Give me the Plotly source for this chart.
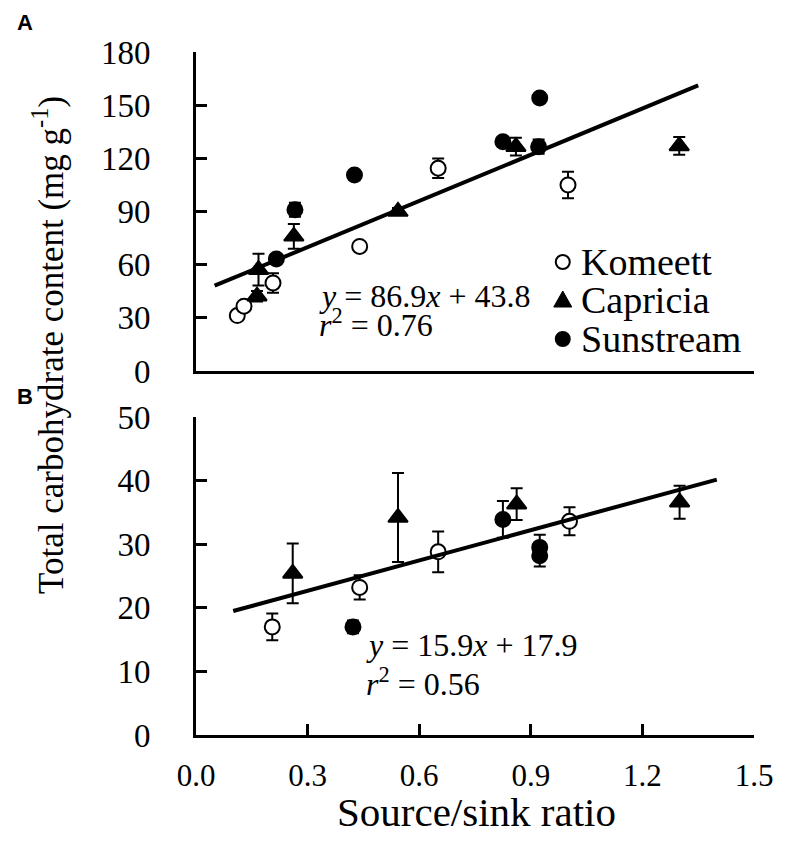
import plotly.graph_objects as go

# ---------------- data ----------------
# Panel A
a_kom_x = [0.111, 0.129, 0.207, 0.440, 0.651, 1.000]
a_kom_y = [31.3, 36.6, 49.7, 70.3, 114.4, 105.0]
a_kom_e = [2.0, 2.0, 5.5, 2.0, 5.5, 7.5]

a_cap_x = [0.164, 0.168, 0.263, 0.543, 0.860, 1.299]
a_cap_y = [42.2, 57.2, 76.0, 90.0, 126.6, 127.0]
a_cap_e = [3.0, 9.0, 7.0, 2.0, 5.0, 5.0]

a_sun_x = [0.216, 0.266, 0.426, 0.825, 0.921, 0.924]
a_sun_y = [63.2, 91.0, 110.6, 129.4, 126.6, 154.1]
a_sun_e = [2.0, 4.0, 2.0, 2.0, 4.0, 2.0]

# Panel B
b_kom_x = [0.205, 0.440, 0.651, 1.004]
b_kom_y = [17.0, 23.2, 28.8, 33.6]
b_kom_e = [2.1, 1.9, 3.2, 2.2]

b_cap_x = [0.260, 0.543, 0.862, 1.300]
b_cap_y = [25.4, 34.2, 36.3, 36.6]
b_cap_e = [4.7, 7.0, 2.5, 2.6]

b_sun_x = [0.422, 0.825, 0.924, 0.924]
b_sun_y = [17.0, 33.9, 29.5, 28.2]
b_sun_e = [1.0, 2.9, 2.0, 1.7]

# regression fits (slope, intercept) and x-extent
fit_a = (86.9, 43.8)
fit_a_x = [0.05, 1.35]
fit_b = (15.9, 17.9)
fit_b_x = [0.10, 1.40]

cultivars = ["Komeett", "Capricia", "Sunstream"]
x_ticks = [0.0, 0.3, 0.6, 0.9, 1.2, 1.5]
x_tick_text = ["0.0", "0.3", "0.6", "0.9", "1.2", "1.5"]
ya_ticks = [0, 30, 60, 90, 120, 150, 180]
yb_ticks = [0, 10, 20, 30, 40, 50]

# ---------------- figure ----------------
SERIF = "Liberation Serif, Times New Roman, serif"
SANS = "Liberation Sans, Arial, sans-serif"

# page geometry (page has an 8px body margin)
PL, PR, PT, PB = 196, 765, 52, 735


def px(xp):
    return (xp - PL) / (PR - PL)


def py(yp):
    return (PB - yp) / (PB - PT)


fig = go.Figure()


def add_series(x, y, e, symbol, fill, xa, ya):
    fig.add_trace(go.Scatter(
        x=x, y=y, mode="markers", showlegend=False,
        xaxis=xa, yaxis=ya,
        marker=dict(symbol=symbol, size=15 if symbol == "circle" else 17,
                    color=fill, line=dict(color="black", width=2)),
        error_y=dict(type="data", array=e, visible=True, color="black",
                     thickness=2, width=6),
    ))


add_series(a_kom_x, a_kom_y, a_kom_e, "circle", "white", "x", "y")
add_series(a_cap_x, a_cap_y, a_cap_e, "triangle-up", "black", "x", "y")
add_series(a_sun_x, a_sun_y, a_sun_e, "circle", "black", "x", "y")
add_series(b_kom_x, b_kom_y, b_kom_e, "circle", "white", "x2", "y2")
add_series(b_cap_x, b_cap_y, b_cap_e, "triangle-up", "black", "x2", "y2")
add_series(b_sun_x, b_sun_y, b_sun_e, "circle", "black", "x2", "y2")

fig.add_trace(go.Scatter(x=fit_a_x, y=[fit_a[0] * v + fit_a[1] for v in fit_a_x],
                         mode="lines", line=dict(color="black", width=4),
                         showlegend=False, xaxis="x", yaxis="y"))
fig.add_trace(go.Scatter(x=fit_b_x, y=[fit_b[0] * v + fit_b[1] for v in fit_b_x],
                         mode="lines", line=dict(color="black", width=4),
                         showlegend=False, xaxis="x2", yaxis="y2"))

axis_common = dict(showline=True, linecolor="black", linewidth=3, ticks="inside",
                   ticklen=11, tickwidth=3, tickcolor="black", showgrid=False,
                   zeroline=False)

W, H = 777, 835
fig.update_layout(
    width=W, height=H,
    margin=dict(l=PL - 8, r=W - (PR - 8), t=PT - 8, b=H - (PB - 8)),
    paper_bgcolor="white", plot_bgcolor="white",
    showlegend=False,
    xaxis=dict(domain=[0, 1], range=[0, 1.5], anchor="y", showline=True,
               linecolor="black", linewidth=3, showticklabels=False, ticks="",
               showgrid=False, zeroline=False),
    yaxis=dict(domain=[py(371), 1], range=[0, 180], anchor="x", tickvals=ya_ticks,
               ticklabelstandoff=36, tickfont=dict(family=SERIF, size=33, color="black"),
               **axis_common),
    xaxis2=dict(domain=[0, 1], range=[0, 1.5], anchor="y2", tickvals=x_ticks,
                ticktext=x_tick_text, ticklabelstandoff=11,
                tickfont=dict(family=SERIF, size=31, color="black"), **axis_common),
    yaxis2=dict(domain=[0, py(417)], range=[0, 50], anchor="x2", tickvals=yb_ticks,
                ticklabelstandoff=36, tickfont=dict(family=SERIF, size=33, color="black"),
                **axis_common),
)

# equations
ann_font = dict(family=SERIF, size=32, color="black")
fig.add_annotation(x=0.325, y=42.5, xref="x", yref="y", xanchor="left", yanchor="middle",
                   text="<i>y</i> = 86.9<i>x</i> + 43.8", showarrow=False, font=ann_font)
fig.add_annotation(x=0.325, y=27.0, xref="x", yref="y", xanchor="left", yanchor="middle",
                   text="<i>r</i><sup>2</sup> = 0.76", showarrow=False, font=ann_font)
fig.add_annotation(x=0.452, y=14.2, xref="x2", yref="y2", xanchor="left", yanchor="middle",
                   text="<i>y</i> = 15.9<i>x</i> + 17.9", showarrow=False, font=ann_font)
fig.add_annotation(x=0.452, y=8.4, xref="x2", yref="y2", xanchor="left", yanchor="middle",
                   text="<i>r</i><sup>2</sup> = 0.56", showarrow=False, font=ann_font)

# manual legend (symbols as pixel-sized shapes, labels as text)
leg_rows = [262, 300, 339]
leg_x = 570
fig.add_shape(type="circle", xref="paper", yref="paper", xsizemode="pixel", ysizemode="pixel",
              xanchor=px(leg_x), yanchor=py(leg_rows[0]), x0=-7, x1=7, y0=-7, y1=7,
              fillcolor="white", line=dict(color="black", width=2))
fig.add_shape(type="path", xref="paper", yref="paper", xsizemode="pixel", ysizemode="pixel",
              xanchor=px(leg_x), yanchor=py(leg_rows[1]),
              path="M -9,-7 L 9,-7 L 0,9 Z", fillcolor="black", line=dict(color="black", width=1))
fig.add_shape(type="circle", xref="paper", yref="paper", xsizemode="pixel", ysizemode="pixel",
              xanchor=px(leg_x), yanchor=py(leg_rows[2]), x0=-7, x1=7, y0=-7, y1=7,
              fillcolor="black", line=dict(color="black", width=2))
for name, row in zip(cultivars, leg_rows):
    fig.add_annotation(x=px(587), y=py(row), xref="paper", yref="paper", text=name,
                       showarrow=False, xanchor="left", yanchor="middle",
                       font=dict(family=SERIF, size=38, color="black"))

# axis titles
fig.add_annotation(x=px(45), y=py(345), xref="paper", yref="paper",
                   text="Total carbohydrate content (mg g<sup>-1</sup>)", textangle=-90,
                   showarrow=False, xanchor="center", yanchor="middle",
                   font=dict(family=SERIF, size=35, color="black"))
fig.add_annotation(x=px(482), y=py(812), xref="paper", yref="paper",
                   text="Source/sink ratio", showarrow=False, xanchor="center",
                   yanchor="middle", font=dict(family=SERIF, size=41, color="black"))

# panel letters
fig.add_annotation(x=px(22), y=py(22), xref="paper", yref="paper",
                   text="<b>A</b>", showarrow=False, xanchor="center", yanchor="middle",
                   font=dict(family=SANS, size=22, color="black"))
fig.add_annotation(x=px(22), y=py(396), xref="paper", yref="paper",
                   text="<b>B</b>", showarrow=False, xanchor="center", yanchor="middle",
                   font=dict(family=SANS, size=22, color="black"))

fig.write_html("out.html")
